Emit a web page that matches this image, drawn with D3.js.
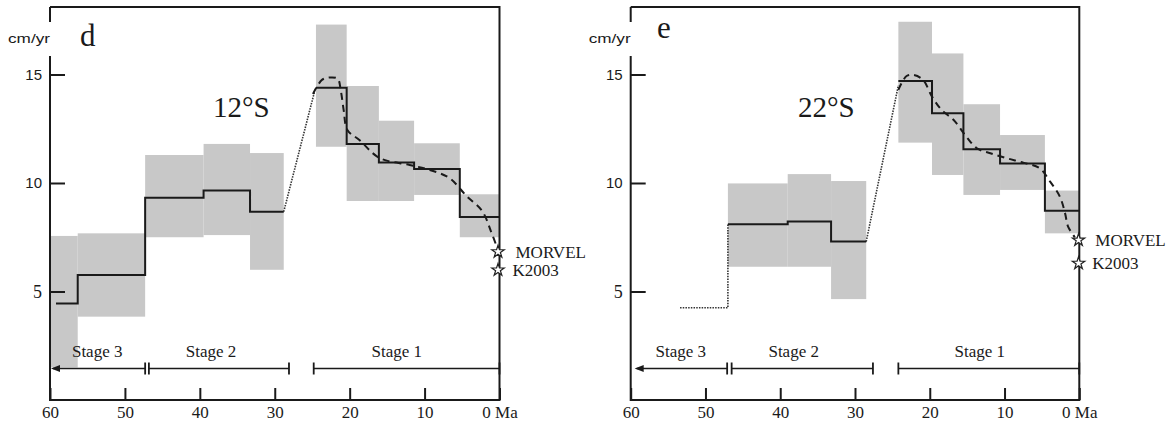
<!DOCTYPE html>
<html lang="en">
<head>
<meta charset="utf-8">
<title>Plate convergence rate, 12°S and 22°S</title>
<script src="https://d3js.org/d3.v7.min.js"></script>
<style>
  body { margin: 0; background: #fff; }
  .serif { font-family: "Liberation Serif", "DejaVu Serif", serif; fill: #1a1a1a; }
  .sans { font-family: "Liberation Sans", Arial, sans-serif; fill: #1a1a1a; }
</style>
</head>
<body>
<div id="chart"></div>
<script>
// ---- panel d : 12°S ----
// uncertainty boxes: [age from, age to, low rate, high rate]
const dBoxes = [
  [60, 56.3, 1.5, 7.56], [56.3, 47.3, 3.84, 7.68],
  [47.3, 39.5, 7.5, 11.29], [39.5, 33.3, 7.6, 11.8], [33.3, 28.8, 6.0, 11.38],
  [24.5, 20.4, 11.67, 17.3], [20.4, 16.1, 9.17, 14.47], [16.1, 11.4, 9.17, 12.87],
  [11.4, 5.3, 9.45, 11.83], [5.3, 0, 7.5, 9.48]
];
const dEarlyAges = [59.2, 56.3, 47.3, 39.5, 33.3, 28.8];
const dEarlyRates = [4.45, 5.76, 9.32, 9.65, 8.68];
const dLateAges = [24.5, 20.4, 16.1, 11.4, 5.3, 0];
const dLateRates = [14.39, 11.8, 10.95, 10.65, 8.43];
const dDotted = [[[28.8, 8.68], [24.7, 14.2]]];
const dDashed = [[24.9, 14.1], [23.7, 14.75], [22.7, 14.86], [21.6, 14.8], [21.2, 14.29], [20.8, 13.36],
  [20.3, 12.44], [18.7, 11.98], [16.0, 11.15], [12.0, 10.83], [9.3, 10.6], [6.7, 10.23],
  [4.4, 9.4], [2.3, 8.7], [1.1, 7.74], [0.3, 7.0]];
const dStars = [["MORVEL", 0.2, 6.83], ["K2003", 0.2, 5.99]];
// [label, from, to, label age]
const dStages = [["Stage 3", 47.3, 59.6, 53.7], ["Stage 2", 46.8, 28.1, 38.5], ["Stage 1", 24.8, 0, 13.7]];

// ---- panel e : 22°S ----
const eBoxes = [
  [47.0, 39.0, 6.14, 9.98], [39.0, 33.2, 6.14, 10.41], [33.2, 28.5, 4.65, 10.09],
  [24.2, 19.7, 11.86, 17.43], [19.7, 15.5, 10.37, 15.97], [15.5, 10.6, 9.45, 13.63],
  [10.6, 4.6, 9.68, 12.21], [4.6, 0, 7.68, 9.65]
];
const eEarlyAges = [47.0, 39.0, 33.2, 28.5];
const eEarlyRates = [8.10, 8.22, 7.30];
const eLateAges = [24.2, 19.7, 15.5, 10.6, 4.6, 0];
const eLateRates = [14.7, 13.21, 11.55, 10.9, 8.72];
const eDotted = [[[53.4, 4.25], [47.0, 4.25], [47.0, 8.10]], [[28.5, 7.3], [24.2, 14.5]]];
const eDashed = [[24.2, 14.29], [23.1, 14.93], [22.2, 14.98], [20.9, 14.75], [19.7, 13.98], [18.4, 13.36],
  [16.8, 12.9], [15.1, 12.13], [13.7, 11.6], [11.9, 11.37], [9.7, 11.14], [7.5, 10.94],
  [5.3, 10.68], [3.9, 10.06], [2.6, 9.37], [1.9, 8.6], [1.5, 7.99], [0.6, 7.5]];
const eStars = [["MORVEL", 0.1, 7.37], ["K2003", 0.1, 6.3]];
const eStages = [["Stage 3", 47.1, 59.2, 53.3], ["Stage 2", 46.5, 27.6, 38.2], ["Stage 1", 24.2, 0, 13.3]];

const xTicks = [60, 50, 40, 30, 20, 10, 0];
const yTicks = [5, 10, 15];

const width = 1175, height = 427;
const svg = d3.select("#chart").append("svg")
  .attr("width", width).attr("height", height);

function steps(ages, rates) {
  return ages.map((a, i) => [a, rates[Math.min(i, rates.length - 1)]]);
}

function drawPanel(p) {
  const top = 7, bottom = 400;
  const x = d3.scaleLinear().domain([60, 0]).range([p.left, p.right]);
  const y = d3.scaleLinear().domain([0, 18.11]).range([bottom, top]);
  const g = svg.append("g");
  const line = d3.line().x(d => x(d[0])).y(d => y(d[1]));

  g.selectAll("rect.box").data(p.boxes).enter().append("rect")
    .attr("x", d => x(d[0])).attr("width", d => x(d[1]) - x(d[0]))
    .attr("y", d => y(d[3])).attr("height", d => y(d[2]) - y(d[3]))
    .attr("fill", "#c8c8c8");

  // frame, with a gap in the left axis for the unit label
  g.append("path")
    .attr("d", `M${p.left},${top}H${p.right}V${bottom}H${p.left}V56M${p.left},22V${top}`)
    .attr("fill", "none").attr("stroke", "#1a1a1a").attr("stroke-width", 2);

  const xa = g.append("g").attr("transform", `translate(0,${bottom})`)
    .call(d3.axisBottom(x).tickValues(xTicks).tickSize(-12).tickPadding(6)
      .tickFormat(d => d === 0 ? "0 Ma" : d));
  xa.select(".domain").remove();
  xa.selectAll("line").attr("stroke", "#1a1a1a").attr("stroke-width", 2);
  xa.selectAll("text").attr("class", "serif").style("font-size", "17px");

  const ya = g.append("g").attr("transform", `translate(${p.left},0)`)
    .call(d3.axisLeft(y).tickValues(yTicks).tickSize(-15).tickPadding(8));
  ya.select(".domain").remove();
  ya.selectAll("line").attr("stroke", "#1a1a1a").attr("stroke-width", 2);
  ya.selectAll("text")
    .attr("class", d => d === 5 ? "serif" : "sans")
    .style("font-size", d => d === 5 ? "18px" : "15px");

  g.append("text").attr("class", "sans")
    .attr("x", p.left - 42).attr("y", 43)
    .attr("textLength", 42).attr("lengthAdjust", "spacingAndGlyphs")
    .style("font-size", "13px").text("cm/yr");

  g.append("text").attr("class", "serif")
    .attr("x", p.letterPos[0]).attr("y", p.letterPos[1])
    .style("font-size", "31px").text(p.letter);
  g.append("text").attr("class", "serif")
    .attr("x", p.titlePos[0]).attr("y", p.titlePos[1])
    .style("font-size", "29px").text(p.title);

  // dotted connectors
  g.selectAll("path.dot").data(p.dotted).enter().append("path")
    .attr("d", line).attr("fill", "none")
    .attr("stroke", "#333").attr("stroke-width", 1.6).attr("stroke-dasharray", "1.5,1.2");

  // step rates
  const step = line.curve ? d3.line().x(d => x(d[0])).y(d => y(d[1])).curve(d3.curveStepAfter) : null;
  [steps(p.earlyAges, p.earlyRates), steps(p.lateAges, p.lateRates)].forEach(pts => {
    g.append("path").attr("d", step(pts)).attr("fill", "none")
      .attr("stroke", "#1a1a1a").attr("stroke-width", 2);
  });

  // smoothed rate
  g.append("path")
    .attr("d", d3.line().x(d => x(d[0])).y(d => y(d[1])).curve(d3.curveCatmullRom)(p.dashed))
    .attr("fill", "none").attr("stroke", "#1a1a1a").attr("stroke-width", 2)
    .attr("stroke-dasharray", "7,5");

  // present-day estimates
  const star = d3.symbol(d3.symbolStar, 48);
  g.selectAll("path.star").data(p.stars).enter().append("path")
    .attr("d", star)
    .attr("transform", d => `translate(${x(d[1])},${y(d[2])})`)
    .attr("fill", "#fff").attr("stroke", "#222").attr("stroke-width", 1.2);
  g.selectAll("text.star").data(p.stars).enter().append("text")
    .attr("class", "serif")
    .attr("x", d => x(0) + (d[0] === "MORVEL" ? 16 : 13)).attr("y", d => y(d[2]) + 6)
    .style("font-size", "17px").text(d => d[0]);

  // stage bars
  const ys = bottom - 31.5;
  p.stages.forEach((s, i) => {
    const x0 = x(s[1]), x1 = x(s[2]);
    g.append("line").attr("x1", x0).attr("x2", x1).attr("y1", ys).attr("y2", ys)
      .attr("stroke", "#1a1a1a").attr("stroke-width", 1.6);
    g.append("line").attr("x1", x0).attr("x2", x0).attr("y1", ys - 6).attr("y2", ys + 6)
      .attr("stroke", "#1a1a1a").attr("stroke-width", 1.8);
    if (i === 0) {
      g.append("path").attr("d", `M${x1 - 2},${ys}l9,-3.5v7z`).attr("fill", "#1a1a1a");
    } else {
      g.append("line").attr("x1", x1).attr("x2", x1).attr("y1", ys - 6).attr("y2", ys + 6)
        .attr("stroke", "#1a1a1a").attr("stroke-width", 1.8);
    }
    g.append("text").attr("class", "serif")
      .attr("x", x(s[3])).attr("y", ys - 12).attr("text-anchor", "middle")
      .style("font-size", "17px").text(s[0]);
  });
}

drawPanel({
  left: 50, right: 499.5, letter: "d", letterPos: [80, 46], title: "12°S", titlePos: [213, 117],
  boxes: dBoxes, earlyAges: dEarlyAges, earlyRates: dEarlyRates, lateAges: dLateAges, lateRates: dLateRates,
  dotted: dDotted, dashed: dDashed, stars: dStars, stages: dStages
});
drawPanel({
  left: 630.7, right: 1079.3, letter: "e", letterPos: [657, 38], title: "22°S", titlePos: [798, 116.5],
  boxes: eBoxes, earlyAges: eEarlyAges, earlyRates: eEarlyRates, lateAges: eLateAges, lateRates: eLateRates,
  dotted: eDotted, dashed: eDashed, stars: eStars, stages: eStages
});
</script>
</body>
</html>
